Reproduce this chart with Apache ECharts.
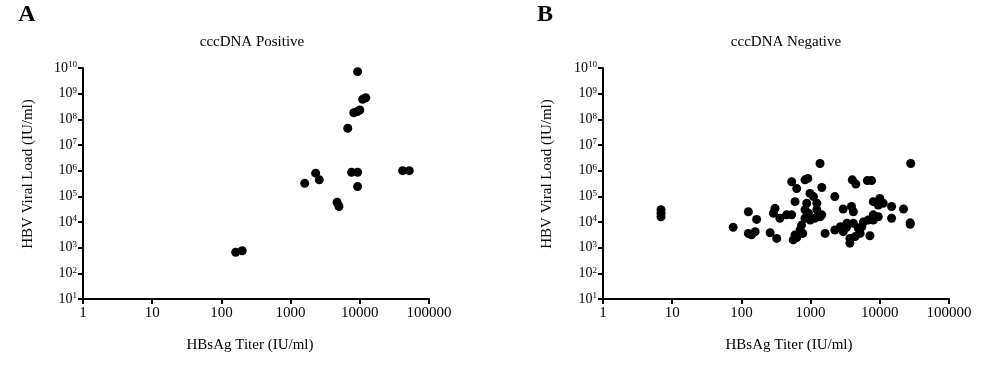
<!DOCTYPE html>
<html><head><meta charset="utf-8">
<script src="https://cdn.jsdelivr.net/npm/echarts@6/dist/echarts.min.js"></script>
<style>html,body{margin:0;padding:0;background:#fff}#c{width:1000px;height:369px}</style>
</head><body><div id="c"></div>
<script>
// Panel A: cccDNA Positive (HBsAg titer, HBV viral load)
const posX = [9300, 11000, 12200, 8200, 9200, 10000, 6700, 7600, 9300, 9300, 41600, 51900, 2300, 2600, 1600, 4700, 5000, 161, 200];
const posY = [7.2e9, 6.0e8, 6.9e8, 1.8e8, 2.0e8, 2.3e8, 4.5e7, 8.7e5, 8.7e5, 2.4e5, 1e6, 1e6, 8e5, 4.4e5, 3.2e5, 5.9e4, 4e4, 660, 760];
// Panel B: cccDNA Negative
const negX = [6.9, 6.9, 6.9, 76, 126, 166, 126, 158, 140, 260, 324, 306, 290, 360, 450, 533,
  533, 630, 830, 910, 595, 980, 1100, 880, 1230, 830, 930, 1230, 1450, 830, 990, 1150, 1370,
  740, 705, 595, 560, 630, 770, 1620, 1370, 1450, 2240, 2240, 2960, 3900, 4150, 4000, 4500, 6600, 7600,
  8050, 10000, 9500, 11200, 14800, 22000, 14800, 27500, 27500, 28000, 8050, 9500, 6800, 5800, 8050,
  4150, 3350, 2700, 2960, 3300, 4900, 5200, 5500, 3700, 4400, 7200, 3700];
const negY = [3e4, 2.2e4, 1.6e4, 6200, 2.5e4, 1.26e4, 3600, 4200, 3200, 3800, 2300, 3.4e4, 2.2e4, 1.4e4, 1.9e4, 1.9e4,
  3.7e5, 2.0e5, 4.4e5, 5e5, 6.2e4, 1.3e5, 9.8e4, 5.4e4, 5.4e4, 3e4, 2.2e4, 3e4, 1.9e4, 1.4e4, 1.2e4, 1.4e4, 1.6e4,
  7600, 4900, 3100, 2000, 2500, 3600, 3600, 1.9e6, 2.2e5, 4900, 9.8e4, 3.2e4, 4e4, 2.5e4, 4.4e5, 3e5, 4.1e5, 4.1e5,
  6.2e4, 8.3e4, 4.6e4, 5.4e4, 4e4, 3.2e4, 1.4e4, 9300, 8200, 1.9e6, 1.9e4, 1.6e4, 1.2e4, 1e4, 1.2e4,
  8900, 8900, 6600, 4200, 6200, 5700, 3600, 6500, 2300, 2700, 2900, 1500];
const xMin = 1, xMax = 100000;
const yMin = 10, yMax = 1e10;
const panelTitles = ['cccDNA Positive', 'cccDNA Negative'];
const panelLetters = ['A', 'B'];
const xName = 'HBsAg Titer (IU/ml)';
const yName = 'HBV Viral Load (IU/ml)';

const FONT = 'Liberation Serif';
const chart = echarts.init(document.getElementById('c'));

function xAxisCfg(gi) {
  return {
    type: 'log', logBase: 10, gridIndex: gi, min: xMin, max: xMax, interval: 1,
    axisLine: { lineStyle: { color: '#000', width: 2 } },
    axisTick: { length: 5, lineStyle: { color: '#000', width: 2 } },
    axisLabel: { color: '#000', fontFamily: FONT, fontSize: 15, margin: 7,
      formatter: v => String(Math.round(v)) },
    splitLine: { show: false }
  };
}
function yAxisCfg(gi) {
  return {
    type: 'log', logBase: 10, gridIndex: gi, min: yMin, max: yMax, interval: 1,
    axisLine: { lineStyle: { color: '#000', width: 2 } },
    axisTick: { length: 5, lineStyle: { color: '#000', width: 2 } },
    axisLabel: { color: '#000', margin: 6,
      formatter: v => '{b|10}{s|' + Math.round(Math.log10(v)) + '}',
      rich: {
        b: { fontFamily: FONT, fontSize: 14, color: '#000' },
        s: { fontFamily: FONT, fontSize: 9, color: '#000', verticalAlign: 'top', padding: [0, 0, 6, 0] }
      } },
    splitLine: { show: false }
  };
}
function pairs(xs, ys) { return xs.map((x, i) => [x, ys[i]]); }

const txt = (x, y, text, opts) => Object.assign({ type: 'text', x, y,
  style: Object.assign({ text, fontFamily: FONT, fontSize: 15, fill: '#000', align: 'center', verticalAlign: 'middle' }, opts || {}) });

chart.setOption({
  animation: false,
  grid: [
    { left: 83, right: 571, top: 68, bottom: 70 },
    { left: 603, right: 51, top: 68, bottom: 70 }
  ],
  xAxis: [xAxisCfg(0), xAxisCfg(1)],
  yAxis: [yAxisCfg(0), yAxisCfg(1)],
  series: [
    { type: 'scatter', xAxisIndex: 0, yAxisIndex: 0, data: pairs(posX, posY), symbolSize: 9,
      itemStyle: { color: '#000', opacity: 1 } },
    { type: 'scatter', xAxisIndex: 1, yAxisIndex: 1, data: pairs(negX, negY), symbolSize: 9,
      itemStyle: { color: '#000', opacity: 1 } }
  ],
  graphic: [
    txt(27, 15, panelLetters[0], { fontSize: 24, fontWeight: 'bold' }),
    txt(545, 15, panelLetters[1], { fontSize: 24, fontWeight: 'bold' }),
    txt(252, 42, panelTitles[0]),
    txt(786, 42, panelTitles[1]),
    txt(250, 345, xName),
    txt(789, 345, xName),
    Object.assign(txt(0, 0, yName), { x: 28, y: 174, rotation: Math.PI / 2 }),
    Object.assign(txt(0, 0, yName), { x: 547, y: 174, rotation: Math.PI / 2 })
  ]
});
</script></body></html>
